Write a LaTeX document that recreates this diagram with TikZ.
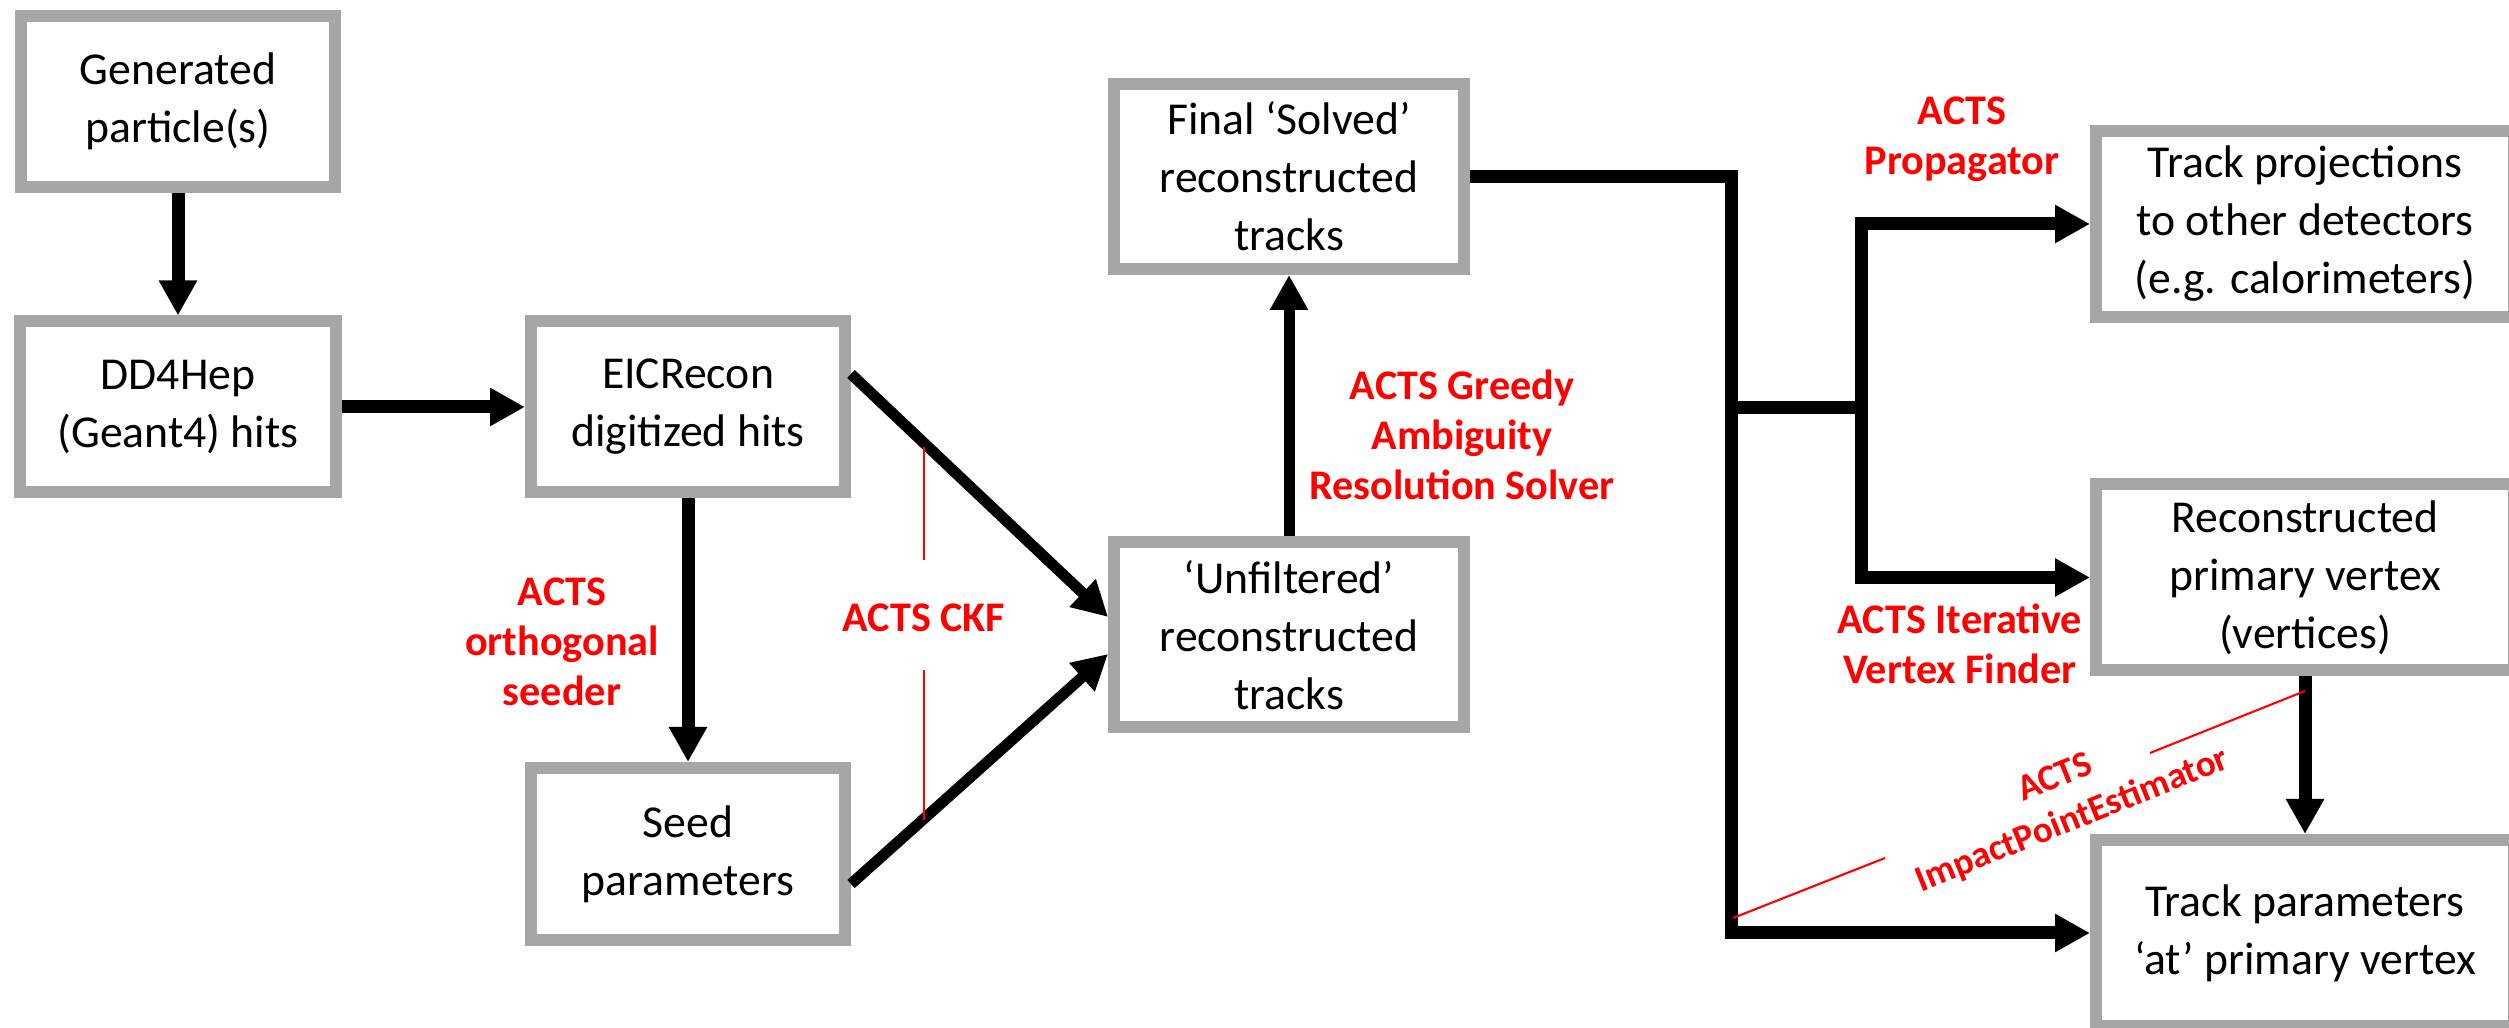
\documentclass[tikz,border=0pt]{standalone}
\usepackage{fontspec}
\setmainfont{Carlito}
\usepackage{tikz}
\usetikzlibrary{arrows.meta}
\definecolor{boxgray}{RGB}{166,166,166}

\begin{document}
\begin{tikzpicture}
    \useasboundingbox (0,0) rectangle (25.09,10.28);

    % Styles.
    \tikzstyle{block} = [draw=boxgray, line width=1.2mm, fill=white, align=center, inner sep=0pt,
                         minimum width=3.14cm, minimum height=1.71cm, font=\fontsize{13}{16.5}\selectfont]
    \tikzstyle{wideblock} = [block, minimum width=3.5cm, minimum height=1.85cm]
    \tikzstyle{sideblock} = [block, minimum width=4.18cm, minimum height=1.86cm]
    \tikzstyle{flow} = [-{Triangle[length=3.5mm, width=3.6mm]}, line width=1.3mm]
    \tikzstyle{link} = [line width=1.3mm, line cap=rect]
    \tikzstyle{algo} = [text=red, align=center, inner sep=0pt, font=\bfseries\fontsize{12}{14.2}\selectfont]
    \tikzstyle{pointer} = [draw=red, line width=0.6pt]

    % Draw the boxes.
    \node[block] (gen) at (1.78,9.265) {Generated\\particle(s)};
    \node[block, minimum width=3.16cm] (dd4) at (1.78,6.21) {DD4Hep\\(Geant4) hits};
    \node[block] (eic) at (6.88,6.21) {EICRecon\\digitized hits};
    \node[block, minimum height=1.72cm] (seed) at (6.88,1.74) {Seed\\parameters};
    \node[wideblock] (unf) at (12.89,3.93) {‘Unfiltered’\\reconstructed\\tracks};
    \node[wideblock] (final) at (12.89,8.515) {Final ‘Solved’\\reconstructed\\tracks};
    \node[sideblock] (proj) at (23.05,8.04) {Track projections\\to other detectors\\(e.g. calorimeters)};
    \node[sideblock] (reco) at (23.05,4.505) {Reconstructed\\primary vertex\\(vertices)};
    \node[sideblock] (tpar) at (23.05,0.95) {Track parameters\\‘at’ primary vertex};

    % Draw the connections.
    \draw[flow] (gen) -- (dd4);
    \draw[flow] (dd4) -- (eic);
    \draw[flow] (eic) -- (seed);
    \draw[flow, line width=1.1mm] ([yshift=3.3mm]eic.east) -- ([yshift=1.8mm]unf.west);
    \draw[flow, line width=1.1mm] ([yshift=-3mm]seed.east) -- ([yshift=-1.9mm]unf.west);
    \draw[flow, line width=1.1mm] (unf) -- (final);

    \coordinate (split) at (17.31,6.20);
    \coordinate (branch) at (18.61,6.20);
    \draw[flow] (final.east) -| (split) |- (tpar.west);
    \draw[link] (split) -- (branch);
    \draw[flow] (branch) |- (proj.west);
    \draw[flow] (branch) |- (reco.west);
    \draw[flow] (reco) -- (tpar);

    % Algorithm labels.
    \node[algo] (seeder) at (5.62,3.865) {ACTS\\orthogonal\\seeder};
    \node[algo] (ckf) at (9.24,4.10) {ACTS CKF};
    \node[algo] (greedy) at (14.62,5.93) {ACTS Greedy\\Ambiguity\\Resolution Solver};
    \node[algo] (prop) at (19.62,8.89) {ACTS\\Propagator};
    \node[algo] (ivf) at (19.60,3.84) {ACTS Iterative\\Vertex Finder};
    \node[algo, rotate=22, font=\bfseries\fontsize{10.5}{13}\selectfont] (ipe) at (20.64,2.28)
        {ACTS\\ImpactPointEstimator};

    % Pointer lines.
    \coordinate (ckf1) at (9.24,5.81);
    \coordinate (ckf2) at (9.24,4.68);
    \coordinate (ckf3) at (9.24,3.58);
    \coordinate (ckf4) at (9.24,2.08);
    \draw[pointer] (ckf1) -- (ckf2) (ckf3) -- (ckf4);
    \coordinate (ipe1) at (17.33,1.10);
    \coordinate (ipe2) at (18.85,1.70);
    \coordinate (ipe3) at (21.50,2.75);
    \coordinate (ipe4) at (23.05,3.37);
    \draw[pointer] (ipe1) -- (ipe2) (ipe3) -- (ipe4);
\end{tikzpicture}
\end{document}
